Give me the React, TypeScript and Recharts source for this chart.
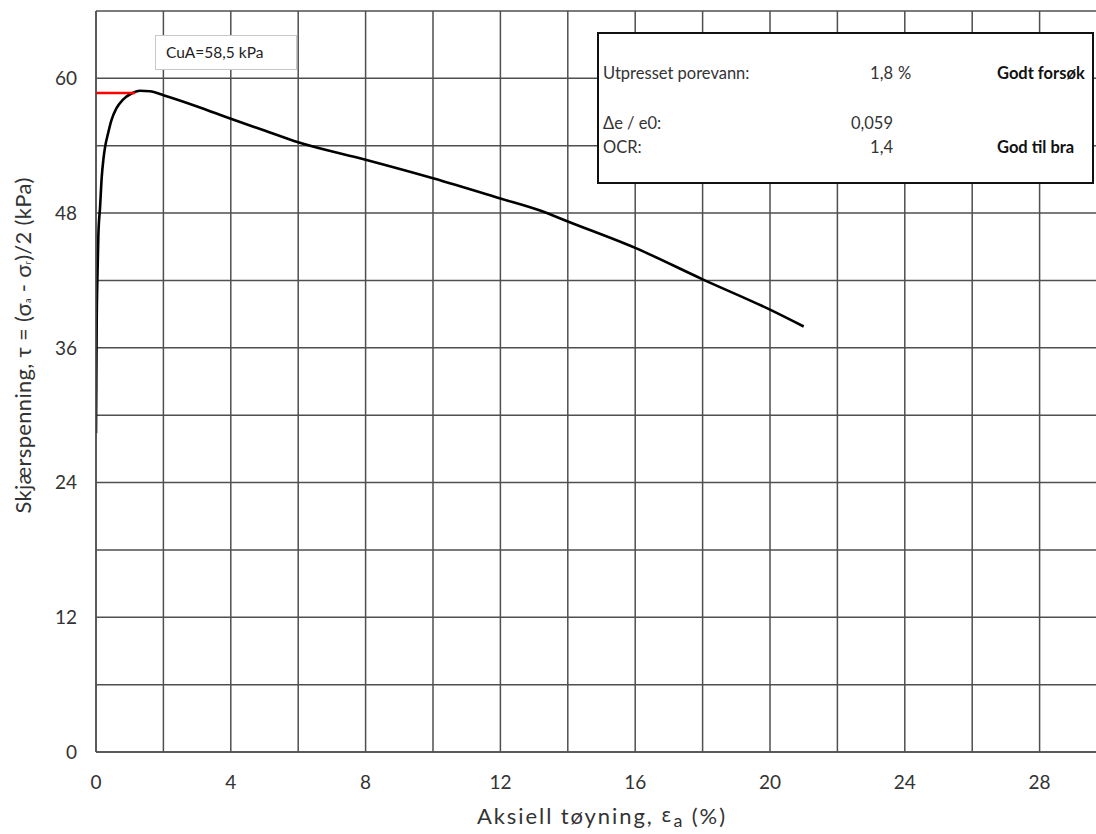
import React from 'react';
import { LineChart, Line, XAxis, YAxis, CartesianGrid, Label } from 'recharts';

// Axial strain (%) and shear stress (kPa)
const strain = [0, 0.01, 0.02, 0.04, 0.07, 0.12, 0.17, 0.22, 0.27, 0.35, 0.45, 0.6, 0.8, 1.05, 1.3, 1.6, 2.0, 3.0, 4.0, 5.0, 6, 8, 10, 12, 13.2, 14, 16, 18, 20, 21];
const shear = [28.4, 33, 38, 42, 46, 48.5, 51.2, 52.8, 53.9, 55.0, 56.2, 57.3, 58.1, 58.65, 58.9, 58.85, 58.5, 57.5, 56.4, 55.35, 54.3, 52.75, 51.1, 49.3, 48.2, 47.25, 44.9, 42.1, 39.4, 37.9];

// CuA marker line
const peakStrain = [0, 1.16];
const peakShear = [58.7, 58.7];

const xTicks = [0, 2, 4, 6, 8, 10, 12, 14, 16, 18, 20, 22, 24, 26, 28, 30];
const yTicks = [0, 6, 12, 18, 24, 30, 36, 42, 48, 54, 60, 66];

const infoLabels = ['Utpresset porevann:', 'Δe / e0:', 'OCR:'];
const infoValues = ['1,8', '0,059', '1,4'];
const infoUnits = ['%', '', ''];
const infoVerdicts = ['Godt forsøk', '', 'God til bra'];
const cuLabel = 'CuA=58,5 kPa';

const curveData = strain.map((s, i) => ({ x: s, y: shear[i] }));
const peakData = peakStrain.map((s, i) => ({ x: s, y: peakShear[i] }));

const FONT = 'Lato, "Open Sans", sans-serif';
const GRID = '#4f4f4f';
const TXT = '#333333';
const ROWS = [73, 123, 147];

const YTitle = (props: any) => {
  const vb = props.viewBox || {};
  const cx = 22;
  const cy = vb.y + vb.height / 2 - 36;
  return (
    <text
      x={cx}
      y={cy}
      transform={`rotate(-90 ${cx} ${cy})`}
      textAnchor="middle"
      dominantBaseline="central"
      fontFamily={FONT}
      fontSize={22}
      fill={TXT}
      textLength={336}
      lengthAdjust="spacing"
    >
      <tspan>Skjærspenning, τ = (σ</tspan>
      <tspan fontSize={9} dy={5}>a</tspan>
      <tspan dy={-5}> - σ</tspan>
      <tspan fontSize={9} dy={5}>r</tspan>
      <tspan dy={-5}>)/2 (kPa)</tspan>
    </text>
  );
};

const XTitle = (props: any) => {
  const vb = props.viewBox || {};
  const cx = 601;
  const cy = vb.y + 63;
  return (
    <text
      x={cx}
      y={cy}
      textAnchor="middle"
      dominantBaseline="central"
      fontFamily={FONT}
      fontSize={22}
      fill={TXT}
      textLength={248}
      lengthAdjust="spacing"
    >
      <tspan>Aksiell tøyning, </tspan>
      <tspan fontFamily='"DejaVu Sans", sans-serif' fontSize={19}>ε</tspan>
      <tspan fontSize={18} dy={5}>a</tspan>
      <tspan dy={-5}> (%)</tspan>
    </text>
  );
};

export default function App() {
  return (
    <div style={{ position: 'absolute', left: 0, top: 0, width: 1096, height: 834, overflow: 'hidden', background: '#fff' }}>
      <LineChart
        width={1120}
        height={834}
        margin={{ top: 11, right: 13, left: 0, bottom: 0 }}
        style={{ fontFamily: FONT }}
      >
        <CartesianGrid stroke={GRID} strokeWidth={1.5} />
        <XAxis
          dataKey="x"
          type="number"
          domain={[0, 30]}
          ticks={xTicks}
          allowDataOverflow
          height={82}
          tickLine={false}
          tickSize={0}
          tickMargin={24}
          axisLine={{ stroke: GRID, strokeWidth: 1.5 }}
          tick={{ fill: TXT, fontSize: 19, fontFamily: FONT }}
          tickFormatter={(v: number) => (v % 4 === 0 && v < 30 ? String(v) : '')}
          interval={0}
        >
          <Label content={XTitle} />
        </XAxis>
        <YAxis
          dataKey="y"
          type="number"
          domain={[0, 66]}
          ticks={yTicks}
          allowDataOverflow
          width={96}
          tickLine={false}
          tickSize={0}
          tickMargin={19}
          axisLine={{ stroke: GRID, strokeWidth: 1.5 }}
          tick={{ fill: TXT, fontSize: 19, fontFamily: FONT }}
          tickFormatter={(v: number) => (v % 12 === 0 ? String(v) : '')}
          interval={0}
        >
          <Label content={YTitle} />
        </YAxis>
        <Line
          data={curveData}
          dataKey="y"
          type="monotone"
          stroke="#000"
          strokeWidth={2.6}
          dot={false}
          isAnimationActive={false}
        />
        <Line
          data={peakData}
          dataKey="y"
          type="linear"
          stroke="#ff0000"
          strokeWidth={2.4}
          dot={false}
          isAnimationActive={false}
        />
      </LineChart>
      <svg
        width={1096}
        height={834}
        style={{ position: 'absolute', left: 0, top: 0, pointerEvents: 'none' }}
        fontFamily={FONT}
      >
        <rect x={155.5} y={35.5} width={141} height={34} fill="#fff" stroke="#c8c8c8" strokeWidth={1} />
        <text x={166} y={52} dominantBaseline="central" fontSize={15.5} fill="#222">{cuLabel}</text>

        <rect x={598} y={33} width={495} height={150} fill="#fff" stroke="#111" strokeWidth={2} />
        {infoLabels.map((t, i) => (
          <text key={'l' + i} x={603} y={ROWS[i]} dominantBaseline="central" fontSize={16.5} fill="#333">{t}</text>
        ))}
        {infoValues.map((t, i) => (
          <text key={'v' + i} x={893} y={ROWS[i]} dominantBaseline="central" textAnchor="end" fontSize={16.5} fill="#333">{t}</text>
        ))}
        {infoUnits.map((t, i) => (
          <text key={'u' + i} x={898} y={ROWS[i]} dominantBaseline="central" fontSize={16.5} fill="#333">{t}</text>
        ))}
        {infoVerdicts.map((t, i) => (
          <text key={'g' + i} x={997} y={ROWS[i]} dominantBaseline="central" fontSize={16.5} fontWeight="bold" fill="#111">{t}</text>
        ))}
      </svg>
    </div>
  );
}
